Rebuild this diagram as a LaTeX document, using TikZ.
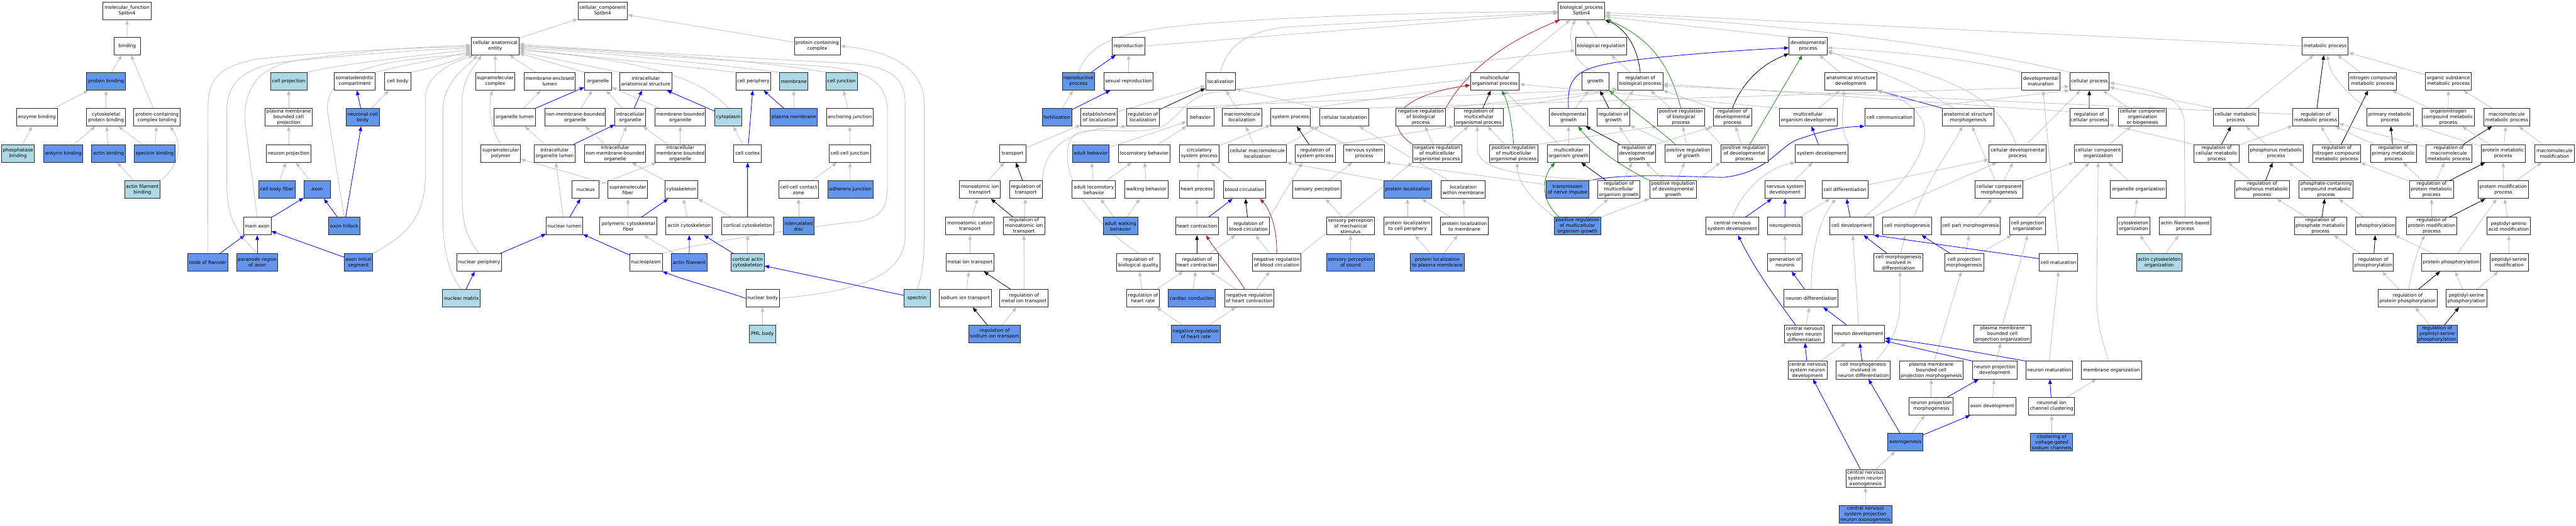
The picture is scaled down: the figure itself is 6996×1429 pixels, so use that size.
\documentclass[tikz,border=0pt]{standalone}
\usepackage{fontspec}
\setmainfont{DejaVu Sans}
\usetikzlibrary{arrows.meta,calc}
\pgfdeclarelayer{bg}
\pgfdeclarelayer{edges}
\pgfsetlayers{bg,edges,main}
\definecolor{nblue}{HTML}{6495ED}
\definecolor{lblue}{HTML}{ADD8E6}
\definecolor{egray}{HTML}{C0C0C0}
\definecolor{egreen}{HTML}{228B22}
\definecolor{ered}{HTML}{B22222}
\newcommand\nd[6][]{\node[box,#1,minimum width=#5*0.01cm] (#2) at (#3,#4) {#6};}
\begin{document}
\begin{tikzpicture}[x=0.01cm,y=-0.01cm,
 box/.style={draw=black!85, line width=0.45pt, fill=white, minimum height=0.48cm, inner sep=0.3pt, align=center, font=\fontsize{3.64pt}{4.35pt}\selectfont},
 B/.style={fill=nblue}, L/.style={fill=lblue},
 ed/.style={line width=0.4pt, -{Triangle[length=3.6pt,width=2.8pt]}},
 ga/.style={ed, egray}, bl/.style={ed, blue}, bk/.style={ed, black}, gr/.style={ed, egreen}, rd/.style={ed, ered}]
\useasboundingbox (0,0) rectangle (6996,1429);
\begin{pgfonlayer}{bg}\fill[white] (0,0) rectangle (6996,1429);\end{pgfonlayer}
% ---------- molecular function
\nd{mf}{345}{29.5}{131}{molecular\_function\\Sptbn4}
\nd{bind}{345.4}{125}{72}{binding}
\nd[B]{pbind}{288}{221}{105}{protein binding}
\nd{enzb}{100}{318.5}{111}{enzyme binding}
\nd{cytpb}{288}{318.5}{105}{cytoskeletal\\protein binding}
\nd{pccb}{426.5}{318.5}{126}{protein-containing\\complex binding}
\nd[L]{phosb}{49}{417}{89}{phosphatase\\binding}
\nd[B]{ankb}{171.8}{417}{107}{ankyrin binding}
\nd[B]{actb}{294.8}{417}{91.6}{actin binding}
\nd[B]{specb}{419.8}{417}{111}{spectrin binding}
\nd[L]{afb}{386.7}{515.5}{95}{actin filament\\binding}
% ---------- cellular component (neuron part)
\nd[L]{cproj}{784}{221}{99}{cell projection}
\nd{somd}{963.7}{221}{111.5}{somatodendritic\\compartment}
\nd{cbody}{1080}{221}{72}{cell body}
\nd{pmbcp}{784}{318.5}{129}{plasma membrane\\bounded cell\\projection}
\nd[B]{ncb}{985}{318.5}{91}{neuronal cell\\body}
\nd{nproj}{784}{417}{120.5}{neuron projection}
\nd[B]{cbf}{752}{515.5}{99}{cell body fiber}
\nd[B]{axon}{861.5}{515.5}{72}{axon}
\nd{maxon}{698.6}{614.5}{75}{main axon}
\nd[B]{ahill}{934.7}{614.5}{84.8}{axon hillock}
\nd[B]{ranv}{564}{713}{109}{node of Ranvier}
\nd[B]{para}{698.6}{713}{112}{paranode region\\of axon}
\nd[B]{ais}{973.4}{713}{77}{axon initial\\segment}
% ---------- cellular component
\nd{cc}{1636.7}{29.5}{134}{cellular\_component\\Sptbn4}
\nd{cae}{1344.8}{125}{130}{cellular anatomical\\entity}
\nd{pcc}{2219.7}{125}{125}{protein-containing\\complex}
\nd{smc}{1345}{221}{107}{supramolecular\\complex}
\nd{mel}{1492.8}{221}{139}{membrane-enclosed\\lumen}
\nd{org}{1624}{221}{73}{organelle}
\nd{ias}{1754}{221}{141}{intracellular\\anatomical structure}
\nd{cper}{2046}{221}{94.5}{cell periphery}
\nd[L]{mem}{2155.7}{221}{77}{membrane}
\nd[L]{cjun}{2285.4}{221}{85.5}{cell junction}
\nd{orgl}{1398.3}{318.5}{112}{organelle lumen}
\nd{nmbo}{1562}{318.5}{164}{non-membrane-bounded\\organelle}
\nd{io}{1711.7}{318.5}{83}{intracellular\\organelle}
\nd{mbo}{1847.5}{318.5}{137.5}{membrane-bounded\\organelle}
\nd[L]{cyto}{1978.4}{318.5}{73.6}{cytoplasm}
\nd[B]{pm}{2156}{318.5}{128.6}{plasma membrane}
\nd{ajun}{2308}{318.5}{125.7}{anchoring junction}
\nd{smp}{1360}{417}{107}{supramolecular\\polymer}
\nd{iol}{1506.5}{417}{111.5}{intracellular\\organelle lumen}
\nd{inmbo}{1670.5}{417}{166}{intracellular\\non-membrane-bounded\\organelle}
\nd{imbo}{1847.5}{417}{137.5}{intracellular\\membrane-bounded\\organelle}
\nd{ccort}{2030.5}{417}{75}{cell cortex}
\nd{ccj}{2307.8}{417}{112.4}{cell-cell junction}
\nd{nuc}{1590.6}{515.5}{73}{nucleus}
\nd{smf}{1705}{515.5}{107}{supramolecular\\fiber}
\nd{cytsk}{1850.5}{515.5}{90}{cytoskeleton}
\nd{cccz}{2169}{515.5}{108.5}{cell-cell contact\\zone}
\nd[B]{adj}{2309.4}{515.5}{122.7}{adherens junction}
\nd{nlum}{1533}{614.5}{99}{nuclear lumen}
\nd{pcf}{1706.6}{614.5}{154.7}{polymeric cytoskeletal\\fiber}
\nd{acsk}{1871.7}{614.5}{126.4}{actin cytoskeleton}
\nd{ccsk}{2030.5}{614.5}{142}{cortical cytoskeleton}
\nd[B]{idisc}{2169}{614.5}{83.3}{intercalated\\disc}
\nd{nper}{1301.4}{713}{120.5}{nuclear periphery}
\nd{nplasm}{1754.5}{713}{88.5}{nucleoplasm}
\nd[B]{afil}{1872}{713}{96}{actin filament}
\nd[L]{cacsk}{2030.5}{713}{90}{cortical actin\\cytoskeleton}
\nd[L]{nmat}{1253.3}{810.5}{102}{nuclear matrix}
\nd{nbody}{2071}{810.5}{90.7}{nuclear body}
\nd[L]{spec}{2490.7}{810.5}{72}{spectrin}
\nd[L]{pml}{2070.5}{907.5}{72}{PML body}
% ---------- biological process
\nd{bp}{4295}{29.5}{126.4}{biological\_process\\Sptbn4}
\nd{repro}{3065}{125}{87.7}{reproduction}
\nd{breg}{4348}{125}{138.3}{biological regulation}
\nd{devp}{4910.5}{125}{103.4}{developmental\\process}
\nd{metp}{6314.5}{125}{125.7}{metabolic process}
\nd[B]{rprp}{2929}{221}{87.7}{reproductive\\process}
\nd{sexr}{3065}{221}{134}{sexual reproduction}
\nd{loc}{3314.7}{221}{81}{localization}
\nd{mop}{4059.8}{221}{133}{multicellular\\organismal process}
\nd{growth}{4333}{221}{73}{growth}
\nd{rbp}{4454.6}{221}{122.7}{regulation of\\biological process}
\nd{asd}{5026.5}{221}{142}{anatomical structure\\development}
\nd{devm}{5542.5}{221}{103.4}{developmental\\maturation}
\nd{cellp}{5674.5}{221}{107}{cellular process}
\nd{ncmp}{6443.8}{221}{130}{nitrogen compound\\metabolic process}
\nd{osmp}{6649.5}{221}{125}{organic substance\\metabolic process}
\nd[B]{fert}{2870.4}{318.5}{80}{fertilization}
\nd{eloc}{2985.3}{318.5}{99}{establishment\\of localization}
\nd{rloc}{3104}{318.5}{89}{regulation of\\localization}
\nd{behav}{3260}{318.5}{73}{behavior}
\nd{mmloc}{3373}{318.5}{107}{macromolecule\\localization}
\nd{sysp}{3505}{318.5}{108}{system process}
\nd{cloc}{3650.5}{318.5}{134}{cellular localization}
\nd{nrbp}{3858.6}{318.5}{134}{negative regulation\\of biological\\process}
\nd{rmop}{4016}{318.5}{133}{regulation of\\multicellular\\organismal process}
\nd{dgrow}{4259.8}{318.5}{103.4}{developmental\\growth}
\nd{rgrow}{4381.4}{318.5}{89}{regulation of\\growth}
\nd{prbp}{4565}{318.5}{128}{positive regulation\\of biological\\process}
\nd{rdevp}{4705}{318.5}{104}{regulation of\\developmental\\process}
\nd{mod}{4910.5}{318.5}{157}{multicellular\\organism development}
\nd{ccom}{5131.7}{318.5}{134}{cell communication}
\nd{asm}{5345}{318.5}{141.3}{anatomical structure\\morphogenesis}
\nd{rcp}{5673.5}{318.5}{105}{regulation of\\cellular process}
\nd{ccob}{5818.5}{318.5}{130}{cellular component\\organization\\or biogenesis}
\nd{cmp}{6072}{318.5}{122.7}{cellular metabolic\\process}
\nd{rmp}{6289}{318.5}{124.2}{regulation of\\metabolic process}
\nd{pmp}{6490.7}{318.5}{125.7}{primary metabolic\\process}
\nd{oncmp}{6649}{318.5}{142}{organonitrogen\\compound metabolic\\process}
\nd{mmmp}{6807.8}{318.5}{125}{macromolecule\\metabolic process}
\nd{trans}{2750}{417}{72}{transport}
\nd[B]{adb}{2962.6}{417}{99.6}{adult behavior}
\nd{locb}{3107.6}{417}{141}{locomotory behavior}
\nd{csp}{3257}{417}{107}{circulatory\\system process}
\nd{cmml}{3414.7}{417}{157.6}{cellular macromolecule\\localization}
\nd{rsysp}{3572}{417}{108}{regulation of\\system process}
\nd{nsp}{3705}{417}{111}{nervous system\\process}
\nd{nrmop}{3902.8}{417}{133}{negative regulation\\of multicellular\\organismal process}
\nd{prmop}{4110.8}{417}{132.4}{positive regulation\\of multicellular\\organismal process}
\nd{mog}{4259.8}{417}{115.3}{multicellular\\organism growth}
\nd{rdg}{4445.3}{417}{102.6}{regulation of\\developmental\\growth}
\nd{prg}{4585}{417}{128}{positive regulation\\of growth}
\nd{prdp}{4737.3}{417}{128.6}{positive regulation\\of developmental\\process}
\nd{sysd}{4947.7}{417}{143.5}{system development}
\nd{cdp}{5479.7}{417}{156}{cellular developmental\\process}
\nd{cco}{5698.4}{417}{130.8}{cellular component\\organization}
\nd{rcmp}{6020}{417}{122.7}{regulation of\\cellular metabolic\\process}
\nd{phmp}{6181.3}{417}{149.5}{phosphorus metabolic\\process}
\nd{rncmp}{6346}{417}{130.9}{regulation of\\nitrogen compound\\metabolic process}
\nd{rpmp}{6500}{417}{125}{regulation of\\primary metabolic\\process}
\nd{rmmmp}{6650.5}{417}{125.7}{regulation of\\macromolecule\\metabolic process}
\nd{prmp}{6798.2}{417}{120.5}{protein metabolic\\process}
\nd{mmmod}{6937.6}{417}{106.3}{macromolecule\\modification}
\nd{mit}{2661}{515.5}{112}{monoatomic ion\\transport}
\nd{rtrans}{2786}{515.5}{88.5}{regulation of\\transport}
\nd{alb}{2970.8}{515.5}{117.5}{adult locomotory\\behavior}
\nd{walk}{3113}{515.5}{118}{walking behavior}
\nd{hp}{3250.3}{515.5}{93.7}{heart process}
\nd{bcirc}{3379.8}{515.5}{114.5}{blood circulation}
\nd{sperc}{3577}{515.5}{131}{sensory perception}
\nd[B]{ploc}{3822.6}{515.5}{130}{protein localization}
\nd{lwm}{3974.2}{515.5}{119.7}{localization\\within membrane}
\nd[B]{tni}{4257.2}{515.5}{116}{transmission\\of nerve impulse}
\nd{rmog}{4396.3}{515.5}{113}{regulation of\\multicellular\\organism growth}
\nd{prdg}{4544}{515.5}{127}{positive regulation\\of developmental\\growth}
\nd{nsd}{4847.6}{515.5}{110}{nervous system\\development}
\nd{cdiff}{5010.5}{515.5}{125}{cell differentiation}
\nd{ccm}{5429}{515.5}{131}{cellular component\\morphogenesis}
\nd{oorg}{5807.6}{515.5}{151.7}{organelle organization}
\nd{rphmp}{6143.5}{515.5}{149.5}{regulation of\\phosphorus metabolic\\process}
\nd{pccmp}{6317.4}{515.5}{146.5}{phosphate-containing\\compound metabolic\\process}
\nd{rprmp}{6603.7}{515.5}{119.7}{regulation of\\protein metabolic\\process}
\nd{pmodp}{6798.5}{515.5}{136}{protein modification\\process}
\nd{mact}{2634.3}{614.5}{131.6}{monoatomic cation\\transport}
\nd{rmit}{2780.8}{614.5}{112.3}{regulation of\\monoatomic ion\\transport}
\nd[B]{awb}{3043}{614.5}{93.7}{adult walking\\behavior}
\nd{hc}{3250.7}{614.5}{116.7}{heart contraction}
\nd{rbc}{3390.5}{614.5}{113.8}{regulation of\\blood circulation}
\nd{spms}{3668}{614.5}{130}{sensory perception\\of mechanical\\stimulus}
\nd{plcp}{3822.6}{614.5}{130}{protein localization\\to cell periphery}
\nd{plm}{3977.3}{614.5}{130}{protein localization\\to membrane}
\nd[B]{prmog}{4284}{614.5}{126.4}{positive regulation\\of multicellular\\organism growth}
\nd{cnsd}{4705}{614.5}{143.5}{central nervous\\system development}
\nd{ngen}{4847.7}{614.5}{93.7}{neurogenesis}
\nd{cdev}{5029}{614.5}{119}{cell development}
\nd{cmorph}{5179.6}{614.5}{133}{cell morphogenesis}
\nd{cpm}{5351.9}{614.5}{162}{cell part morphogenesis}
\nd{cpo}{5506.5}{614.5}{98}{cell projection\\organization}
\nd{csko}{5794}{614.5}{89}{cytoskeleton\\organization}
\nd{afbp}{5934.5}{614.5}{139}{actin filament-based\\process}
\nd{rphosmp}{6302}{614.5}{141.3}{regulation of\\phosphate metabolic\\process}
\nd{phos}{6452.7}{614.5}{109.3}{phosphorylation}
\nd{rpmodp}{6604}{614.5}{136.8}{regulation of\\protein modification\\process}
\nd{paam}{6813}{614.5}{117.5}{peptidyl-amino\\acid modification}
\nd{mitr}{2634.6}{713}{131}{metal ion transport}
\nd{rbq}{3091.6}{713}{118}{regulation of\\biological quality}
\nd{rhc}{3250.7}{713}{116.7}{regulation of\\heart contraction}
\nd{nrbc}{3467.5}{713}{132.4}{negative regulation\\of blood circulation}
\nd[B]{sps}{3668}{713}{130}{sensory perception\\of sound}
\nd[B]{plpm}{3903.6}{713}{146.5}{protein localization\\to plasma membrane}
\nd{genn}{4847.7}{713}{93.7}{generation of\\neurons}
\nd{cmid}{5156}{713}{133}{cell morphogenesis\\involved in\\differentiation}
\nd{cpmorph}{5334.4}{713}{106.3}{cell projection\\morphogenesis}
\nd{cmat}{5590.5}{713}{104}{cell maturation}
\nd[L]{acso}{5864}{713}{123.6}{actin cytoskeleton\\organization}
\nd{rphos}{6445.4}{713}{109.3}{regulation of\\phosphorylation}
\nd{pphos}{6657}{713}{160.6}{protein phosphorylation}
\nd{psm}{6814.5}{713}{104}{peptidyl-serine\\modification}
\nd{sit}{2621.3}{810.5}{141.3}{sodium ion transport}
\nd{rmitr}{2781}{810.5}{131}{regulation of\\metal ion transport}
\nd{rhr}{3104.3}{810.5}{88.5}{regulation of\\heart rate}
\nd[B]{cardc}{3237}{810.5}{128}{cardiac conduction}
\nd{nrhc}{3393}{810.5}{134}{negative regulation\\of heart contraction}
\nd{ndiff}{4918.7}{810.5}{146.5}{neuron differentiation}
\nd{rpphos}{6538.7}{810.5}{160.6}{regulation of\\protein phosphorylation}
\nd{psp}{6698.5}{810.5}{110}{peptidyl-serine\\phosphorylation}
\nd[B]{rsit}{2701.3}{907.5}{140.5}{regulation of\\sodium ion transport}
\nd[B]{nrhr}{3247.7}{907.5}{133}{negative regulation\\of heart rate}
\nd{cnsnd}{4900}{907.5}{106.3}{central nervous\\system neuron\\differentiation}
\nd{ndev}{5047.6}{907.5}{141.3}{neuron development}
\nd{pmbcpo}{5438.4}{907.5}{155.4}{plasma membrane\\bounded cell\\projection organization}
\nd[B]{rpsp}{6618.6}{907.5}{109.3}{regulation of\\peptidyl-serine\\phosphorylation}
\nd{cnsndev}{4909}{1006}{106.3}{central nervous\\system neuron\\development}
\nd{cmind}{5060}{1006}{146.5}{cell morphogenesis\\involved in\\neuron differentiation}
\nd{pmbcpm}{5245}{1006}{173.3}{plasma membrane\\bounded cell\\projection morphogenesis}
\nd{npd}{5417.3}{1006}{120.5}{neuron projection\\development}
\nd{nmatr}{5565.3}{1006}{126.4}{neuron maturation}
\nd{memo}{5734.4}{1006}{162.9}{membrane organization}
\nd{npm}{5245}{1104}{119.7}{neuron projection\\morphogenesis}
\nd{axd}{5410.5}{1104}{127.9}{axon development}
\nd{nicc}{5572}{1104}{125}{neuronal ion\\channel clustering}
\nd[B]{axg}{5174.5}{1202}{96}{axonogenesis}
\nd[B]{cvgsc}{5572}{1202}{114.5}{clustering of\\voltage-gated\\sodium channels}
\nd{cnsna}{5066.6}{1300}{106.3}{central nervous\\system neuron\\axonogenesis}
\nd[B]{cnspna}{5066.3}{1398}{144.3}{central nervous\\system projection\\neuron axonogenesis}

\begin{pgfonlayer}{edges}
% MF
\draw[ga] (bind) -- (mf);
\draw[ga] (pbind) -- (bind);
\draw[ga] (pccb) -- (bind);
\draw[ga] (enzb) -- (pbind);
\draw[ga] (cytpb) -- (pbind);
\draw[ga] (phosb) -- (enzb);
\draw[ga] (ankb) -- (cytpb);
\draw[ga] (actb) -- (cytpb);
\draw[ga] (specb) -- (cytpb);
\draw[ga] (specb) -- (pccb);
\draw[ga] (afb) -- (actb);
\draw[ga] (afb.north east) .. controls (490,450) and (495,390) .. ($(pccb.south)+(35,0)$);
% neuron CC
\draw[ga] (pmbcp) -- (cproj);
\draw[ga] (nproj) -- (pmbcp);
\draw[ga] (cbf) -- (nproj);
\draw[ga] (axon) -- (nproj);
\draw[bl] (maxon) -- (axon);
\draw[bl] (ahill) -- (axon);
\draw[bl] (ahill) -- (ncb);
\draw[bl] (ncb) -- (somd);
\draw[ga] (ncb) -- (cbody);
\draw[bl] (ranv) -- (maxon);
\draw[bl] (para) -- (maxon);
\draw[bl] (ais) -- (maxon);
\draw[ga] (cproj.north east) .. controls (950,170) and (1150,150) .. ($(cae.west)+(0,10)$);
\draw[ga] (somd.north east) .. controls (1080,180) and (1200,160) .. ($(cae.west)+(0,14)$);
\draw[ga] (cbody.north east) .. controls (1150,190) and (1230,170) .. ($(cae.west)+(0,18)$);
\draw[ga] (maxon.north) -- (665,330) .. controls (662,240) and (700,185) .. (800,165) .. controls (1000,135) and (1150,127) .. ($(cae.west)+(0,-2)$);
\draw[ga] (ranv.north) -- (565,290) .. controls (565,210) and (600,180) .. (700,160) .. controls (900,140) and (1100,130) .. ($(cae.west)+(0,2)$);
\draw[ga] (para.north) .. controls (640,630) and (616,590) .. (616,500) -- (616,300) .. controls (616,200) and (700,175) .. (800,165) .. controls (1000,145) and (1150,135) .. ($(cae.west)+(0,6)$);
\draw[ga] (ahill.north) -- (889,300) .. controls (885,200) and (1000,165) .. ($(cae.west)+(0,22)$);
\draw[ga] (ais.north east) .. controls (1110,640) and (1155,580) .. (1155,480) -- (1155,270) .. controls (1155,200) and (1230,170) .. ($(cae.south west)+(8,0)$);
\draw[ga] (nper.north) .. controls (1260,640) and (1255,590) .. (1255,520) -- (1255,280) .. controls (1255,210) and (1290,180) .. ($(cae.south west)+(28,0)$);
\draw[ga] (nmat.north) .. controls (1230,760) and (1203,700) .. (1203,600) -- (1203,300) .. controls (1203,220) and (1270,180) .. ($(cae.south west)+(18,0)$);
% CC
\draw[ga] (cae) -- (cc);
\draw[ga] (pcc) -- (cc);
\draw[ga] (smc) -- (cae);
\draw[ga] (mel) -- (cae);
\draw[ga] (org.north west) -- ($(cae.east)+(0,20)$);
\draw[ga] (ias.north west) -- ($(cae.east)+(0,16)$);
\draw[ga] (cper.north west) -- ($(cae.east)+(0,8)$);
\draw[ga] (mem.north west) .. controls (1900,170) and (1600,140) .. ($(cae.east)+(0,5)$);
\draw[ga] (cjun.north west) .. controls (2100,170) and (1700,135) .. ($(cae.east)+(0,2)$);
\draw[ga] (cyto.north) .. controls (1920,230) and (1800,165) .. ($(cae.east)+(0,12)$);
\draw[ga] (nplasm.north east) .. controls (1950,650) and (2250,610) .. (2332,602) .. controls (2400,590) and (2410,560) .. (2410,500) -- (2410,300) .. controls (2410,210) and (2330,185) .. (2200,178) .. controls (1900,160) and (1600,140) .. ($(cae.east)+(0,-2)$);
\draw[ga] (nbody.east) .. controls (2300,795) and (2450,760) .. (2458,650) -- (2458,280) .. controls (2458,200) and (2400,178) .. (2300,172) .. controls (2000,155) and (1600,135) .. ($(cae.east)+(0,-5)$);
\draw[ga] (spec.north) .. controls (2505,750) and (2510,700) .. (2510,640) -- (2510,280) .. controls (2508,190) and (2430,140) .. (pcc.east);
\draw[bl] (orgl) -- (org);
\draw[ga] (orgl) -- (mel);
\draw[ga] (nmbo) -- (org);
\draw[ga] (io) -- (org);
\draw[bl] (io) -- (ias);
\draw[ga] (mbo) -- (org);
\draw[bl] (cyto) -- (ias);
\draw[bl] (pm) -- (cper);
\draw[ga] (pm) -- (mem);
\draw[ga] (ajun) -- (cjun);
\draw[ga] (smp.north) .. controls (1326,340) and (1328,280) .. ($(smc.south)+(-8,0)$);
\draw[ga] (iol) -- (orgl);
\draw[bl] (iol) -- (io);
\draw[ga] (inmbo) -- (nmbo);
\draw[ga] (inmbo) -- (io);
\draw[ga] (imbo) -- (io);
\draw[ga] (imbo) -- (mbo);
\draw[ga] (ccort) -- (cyto);
\draw[bl] (ccort) -- (cper);
\draw[ga] (ccj) -- (ajun);
\draw[ga] (nuc) -- (imbo);
\draw[ga] (smf) -- (smp);
\draw[ga] (cytsk) -- (inmbo);
\draw[ga] (cccz) -- (ccj);
\draw[ga] (adj) -- (ccj);
\draw[bl] (nlum) -- (nuc);
\draw[ga] (nlum) -- (iol);
\draw[ga] (pcf) -- (smf);
\draw[bl] (pcf) -- (cytsk);
\draw[ga] (acsk) -- (cytsk);
\draw[ga] (ccsk) -- (cytsk);
\draw[bl] (ccsk) -- (ccort);
\draw[ga] (idisc) -- (cccz);
\draw[bl] (nper) -- (nlum);
\draw[bl] (nplasm) -- (nlum);
\draw[bl] (afil) -- (acsk);
\draw[ga] (afil) -- (pcf);
\draw[bl] (cacsk) -- (acsk);
\draw[ga] (cacsk) -- (ccsk);
\draw[bl] (nbody.west) .. controls (1950,785) and (1870,765) .. (nplasm.south east);
\draw[ga] (pml) -- (nbody);
\draw[bl] (nmat) -- (nper);
\draw[bl] (spec) -- (cacsk);
% BP top
\draw[ga] (repro.east) -- ($(bp.west)+(0,6)$);
\draw[ga] (rprp.north) .. controls (2960,110) and (3050,80) .. (3300,62) .. controls (3600,40) and (4000,32) .. ($(bp.west)+(0,2)$);
\draw[ga] (loc.north) .. controls (3330,130) and (3380,85) .. (3498,73) -- ($(bp.west)+(0,4)$);
\draw[ga] (breg) -- (bp);
\draw[ga] (mop) -- (bp);
\draw[ga] (growth.north) .. controls (4262,170) and (4258,90) .. ($(bp.south)+(-16,0)$);
\draw[bk] (rbp.north) .. controls (4445,110) and (4400,70) .. (bp.south east);
\draw[rd] (nrbp.north east) .. controls (3990,180) and (4100,110) .. ($(bp.south west)+(5,0)$);
\draw[gr] (prbp.north) .. controls (4540,200) and (4500,110) .. ($(bp.south east)+(3,-2)$);
\draw[ga] (devp.north west) -- ($(bp.east)+(0,16)$);
\draw[ga] (cellp.north west) .. controls (5300,120) and (4800,60) .. ($(bp.east)+(0,11)$);
\draw[ga] (metp.west) -- ($(bp.east)+(0,5)$);
% reproduction / localization
\draw[ga] (sexr) -- (repro);
\draw[bl] (rprp) -- (repro);
\draw[ga] (fert) -- (rprp);
\draw[bl] (fert) -- (sexr);
\draw[ga] (eloc) -- (loc);
\draw[bk] (rloc) -- (loc);
\draw[ga] (rloc.north east) -- ($(rbp.south west)+(0,-4)$);
\draw[ga] (mmloc) -- (loc);
\draw[ga] (cloc.north west) -- ($(loc.south east)+(0,-4)$);
\draw[ga] (cloc.north east) -- ($(cellp.west)+(0,14)$);
\draw[ga] (behav.north east) -- ($(mop.west)+(0,-6)$);
\draw[ga] (sysp.north east) -- ($(mop.west)+(0,12)$);
\draw[ga] (trans) -- (eloc);
\draw[ga] (adb) -- (behav);
\draw[ga] (locb) -- (behav);
\draw[ga] (csp) -- (sysp);
\draw[ga] (cmml) -- (mmloc);
\draw[ga] (cmml.north east) -- (cloc.south west);
\draw[ga] (mit) -- (trans);
\draw[bk] (rtrans) -- (trans);
\draw[ga] (rtrans.north east) .. controls (2835,400) and (2900,352) .. (rloc.south west);
\draw[ga] (alb) -- (adb);
\draw[ga] (alb) -- (locb);
\draw[ga] (walk) -- (locb);
\draw[ga] (hp) -- (csp);
\draw[ga] (bcirc) -- (csp);
\draw[ga] (mact) -- (mit);
\draw[bk] (rmit) -- (mit);
\draw[ga] (rmit) -- (rtrans);
\draw[ga] (awb) -- (alb);
\draw[ga] (awb) -- (walk);
\draw[ga] (hc) -- (hp);
\draw[bl] (hc) -- (bcirc);
\draw[bk] (rbc) -- (bcirc);
\draw[ga] (rbc.north east) -- ($(rsysp.south west)+(20,0)$);
\draw[ga] (mitr) -- (mact);
\draw[ga] (rbq.north) .. controls (2900,560) and (2870,410) .. (2920,364) .. controls (2960,340) and (3080,370) .. (3150,346) .. controls (3200,328) and (3215,262) .. (3300,250) -- ($(breg.west)+(0,12)$);
\draw[bk] (rhc) -- (hc);
\draw[ga] (rhc) -- (rbc);
\draw[ga] (nrbc) -- (rbc);
\draw[rd] (nrbc.north) .. controls (3468,600) and (3440,560) .. ($(bcirc.south east)+(-16,0)$);
\draw[ga] (nrbc.north east) -- (nrmop.south west);
\draw[ga] (rhr) -- (rhc);
\draw[ga] (rhr) -- (rbq);
\draw[ga] (cardc) -- (rhc);
\draw[ga] (nrhc) -- (rhc);
\draw[ga] (nrhc) -- (nrbc);
\draw[rd] ($(nrhc.north)+(-13,0)$) .. controls (3360,750) and (3300,680) .. ($(hc.south)+(25,0)$);
\draw[ga] (nrhr) -- (rhr);
\draw[ga] (nrhr) -- (nrhc);
\draw[ga] (sit) -- (mitr);
\draw[bk] (rmitr) -- (mitr);
\draw[ga] (rmitr) -- (rmit);
\draw[bk] (rsit) -- (sit);
\draw[ga] (rsit) -- (rmitr);
% regulation / growth
\draw[ga] (rbp) -- (breg);
\draw[ga] (nrbp.north east) -- ($(rbp.south west)+(0,-2)$);
\draw[bk] (rmop) -- (mop);
\draw[ga] (rmop.north east) -- ($(rbp.south west)+(0,-1)$);
\draw[ga] (dgrow) -- (growth);
\draw[bl] (dgrow.north) .. controls (4255,210) and (4280,185) .. (4400,168) .. controls (4550,148) and (4750,135) .. ($(devp.west)+(0,5)$);
\draw[bk] (rgrow) -- (growth);
\draw[ga] (rgrow) -- (rbp);
\draw[ga] (prbp) -- (rbp);
\draw[ga] (rdevp.north west) -- (rbp.south east);
\draw[bk] (rdevp.north) .. controls (4725,240) and (4770,180) .. ($(devp.west)+(0,21)$);
\draw[ga] (rsysp.north east) -- (rmop.south west);
\draw[bk] (rsysp) -- (sysp);
\draw[ga] (nsp) -- (sysp);
\draw[ga] (nrmop) -- (nrbp);
\draw[ga] (nrmop) -- (rmop);
\draw[rd] (nrmop.north west) .. controls (3765,345) and (3770,265) .. ($(mop.west)+(0,10)$);
\draw[gr] (prmop.north) .. controls (4105,320) and (4095,280) .. ($(mop.south east)+(-48,0)$);
\draw[ga] (prmop) -- (rmop);
\draw[ga] (prmop.north east) -- (prbp.south west);
\draw[ga] (mog) -- (dgrow);
\draw[ga] (mog) -- (mop);
\draw[bk] (rdg) -- (dgrow);
\draw[ga] (rdg) -- (rgrow);
\draw[ga] (rdg.north east) -- (rdevp.south west);
\draw[gr] ($(prg.north)+(-35,0)$) .. controls (4490,340) and (4420,290) .. (growth.south east);
\draw[ga] (prg) -- (rgrow);
\draw[ga] (prg) -- (prbp);
\draw[ga] (sperc) -- (nsp);
\draw[ga] (ploc.north west) -- (cmml.south east);
\draw[ga] (lwm) -- (cloc);
\draw[bl] (tni.north east) .. controls (4420,470) and (4560,480) .. (4680,482) .. controls (4800,470) and (4830,400) .. (4880,380) .. controls (4950,355) and (5000,345) .. (ccom.south west);
\draw[ga] ($(tni.west)+(0,-14)$) -- ($(nsp.south east)+(2,0)$);
\draw[bk] (rmog) -- (mog);
\draw[ga] (rmog) -- (rdg);
\draw[ga] (rmog.north west) .. controls (4100,475) and (4012,460) .. (4012,400) -- ($(rmop.south)+(-4,0)$);
\draw[gr] (prdg.north west) .. controls (4390,445) and (4330,400) .. ($(dgrow.south)+(26,0)$);
\draw[ga] (prdg) -- (rdg);
\draw[ga] (prdg) -- (prg);
\draw[ga] (prdg.north east) -- (prdp.south west);
\draw[ga] (spms) -- (sperc);
\draw[ga] (plcp) -- (ploc);
\draw[ga] (plm) -- (ploc);
\draw[ga] (plm) -- (lwm);
\draw[gr] ($(prmog.north)+(-50,0)$) .. controls (4180,540) and (4190,480) .. ($(mog.south)+(-37,0)$);
\draw[ga] ($(prmog.north)+(-62,0)$) .. controls (4140,530) and (4120,480) .. ($(prmop.south)+(10,0)$);
\draw[ga] (prmog) -- (rmog);
\draw[ga] (prmog) -- (prdg);
\draw[ga] (sps) -- (spms);
\draw[ga] (plpm) -- (plcp);
\draw[ga] (plpm) -- (plm);
% development
\draw[ga] (asd) -- (devp);
\draw[ga] (devm.north west) .. controls (5350,160) and (5150,140) .. ($(devp.east)+(0,5)$);
\draw[ga] (mod) -- (asd);
\draw[ga] (mod.north west) -- ($(mop.east)+(0,8)$);
\draw[ga] (ccom.north east) -- (cellp.south west);
\draw[bl] (asm.north west) -- (asd.south east);
\draw[ga] ($(asm.north)+(-40,0)$) .. controls (5220,240) and (5080,185) .. ($(devp.east)+(0,12)$);
\draw[bk] (rcp) -- (cellp);
\draw[ga] ($(rcp.west)+(0,-15)$) -- ($(rbp.east)+(0,7)$);
\draw[ga] (ccob) -- (cellp);
\draw[gr] ($(prdp.north)+(15,0)$) -- ($(devp.south)+(-16,0)$);
\draw[ga] (prdp) -- (rdevp);
\draw[ga] (prdp.north west) -- (prbp.south east);
\draw[bl] (sysd) -- (mod);
\draw[ga] (sysd.north east) .. controls (4990,330) and (5010,280) .. ($(asd.south)+(-20,0)$);
\draw[ga] ($(cdp.north)+(-5,0)$) .. controls (5440,280) and (5300,190) .. ($(devp.east)+(0,18)$);
\draw[ga] (cdp) -- (cellp);
\draw[ga] (cco) -- (ccob);
\draw[ga] (nsd) -- (sysd);
\draw[ga] (cdiff) -- (cdp);
\draw[ga] (ccm) -- (cdp);
\draw[ga] (ccm) -- (asm);
\draw[ga] (ccm) -- (cco);
\draw[ga] (oorg) -- (cco);
\draw[bl] (cnsd) -- (nsd);
\draw[ga] (cnsd.north) .. controls (4730,520) and (4800,455) .. (sysd.south west);
\draw[bl] (ngen) -- (nsd);
\draw[ga] (ngen) -- (cdiff);
\draw[bl] (cdev) -- (cdiff);
\draw[ga] (cdev) -- (cdp);
\draw[ga] ($(cdev.north)+(33,0)$) .. controls (5180,500) and (5240,400) .. (5225,340) .. controls (5210,290) and (5150,260) .. (asd.south east);
\draw[ga] ($(cmorph.north)+(18,0)$) .. controls (5240,480) and (5300,400) .. ($(asm.south)+(-15,0)$);
\draw[ga] (cpm) -- (ccm);
\draw[ga] (cpo) -- (cco);
\draw[ga] (csko) -- (oorg);
\draw[ga] (genn) -- (ngen);
\draw[bl] (cmid) -- (cdev);
\draw[ga] (cmid) -- (cmorph);
\draw[bl] (cpmorph) -- (cmorph);
\draw[ga] (cpmorph) -- (cpm);
\draw[ga] (cpmorph) -- (cpo);
\draw[bl] ($(cmat.west)+(0,-10)$) -- (cdev.south east);
\draw[ga] (cmat.north) -- ($(devm.south)+(6,0)$);
\draw[ga] (acso) -- (csko);
\draw[ga] (acso) -- (afbp);
% neuron development
\draw[ga] (ndiff.north) .. controls (4920,680) and (4940,600) .. ($(cdiff.south)+(-25,0)$);
\draw[bl] (ndiff) -- (genn);
\draw[ga] (cnsnd) -- (ndiff);
\draw[bl] (ndev) -- (ndiff);
\draw[bl] ($(cnsnd.north)+(-24,0)$) .. controls (4830,820) and (4770,740) .. ($(cnsd.south)+(15,0)$);
\draw[ga] (ndev.north) -- ($(cdev.south)+(3,0)$);
\draw[bl] (cnsndev) -- (cnsnd);
\draw[ga] (cnsndev) -- (ndev);
\draw[bl] (cmind) -- (ndev);
\draw[ga] ($(cmind.north)+(33,0)$) .. controls (5140,930) and (5160,880) .. (5160,820) -- ($(cmid.south)+(4,0)$);
\draw[ga] ($(pmbcpm.north)+(8,0)$) -- ($(cpmorph.south)+(-8,0)$);
\draw[bl] (npd.north west) -- ($(ndev.east)+(0,19)$);
\draw[bl] (nmatr.north west) .. controls (5380,960) and (5250,935) .. ($(ndev.east)+(0,12)$);
\draw[ga] (npd) -- (pmbcpo);
\draw[ga] (pmbcpo.north) -- (cpo.south);
\draw[ga] (nmatr.north) -- (cmat.south);
\draw[ga] ($(memo.north)+(-8,0)$) .. controls (5700,900) and (5694,860) .. (5694,800) -- (cco.south);
\draw[ga] (npm) -- (pmbcpm);
\draw[bl] (npm) -- (npd);
\draw[ga] (axd) -- (npd);
\draw[bl] (nicc) -- (nmatr);
\draw[ga] (nicc) -- (memo);
\draw[bl] (axg) -- (cmind);
\draw[ga] (axg) -- (npm);
\draw[bl] (axg) -- (axd);
\draw[ga] (cvgsc) -- (nicc);
\draw[ga] (cnsna) -- (axg);
\draw[bl] ($(cnsna.north)+(-14,0)$) -- ($(cnsndev.south)+(15,0)$);
\draw[ga] (cnspna) -- (cnsna);
% metabolism
\draw[ga] (ncmp) -- (metp);
\draw[ga] (osmp) -- (metp);
\draw[ga] (cmp) -- (metp);
\draw[bk] (rmp) -- (metp);
\draw[ga] (pmp.north west) .. controls (6370,250) and (6325,200) .. ($(metp.south)+(7,0)$);
\draw[ga] (oncmp) -- (ncmp);
\draw[ga] (oncmp) -- (osmp);
\draw[ga] (mmmp) -- (osmp);
\draw[ga] (cmp.north west) -- ($(cellp.east)+(0,16)$);
\draw[ga] ($(rmp.west)+(0,-8)$) -- ($(rbp.east)+(0,12)$);
\draw[bk] (rcmp) -- (cmp);
\draw[ga] (rcmp) -- (rmp);
\draw[ga] (rcmp.north west) -- ($(rcp.east)+(0,20)$);
\draw[ga] (phmp) -- (cmp);
\draw[bk] (rncmp) -- (ncmp);
\draw[ga] (rncmp) -- (rmp);
\draw[bk] (rpmp) -- (pmp);
\draw[ga] (rpmp) -- (rmp);
\draw[bk] (rmmmp) -- (mmmp);
\draw[ga] (rmmmp) -- (rmp);
\draw[ga] (prmp) -- (mmmp);
\draw[ga] (prmp) -- (oncmp);
\draw[ga] (prmp) -- (pmp);
\draw[ga] (mmmod) -- (mmmp);
\draw[bk] (rphmp) -- (phmp);
\draw[ga] (rphmp) -- (rcmp);
\draw[ga] (pccmp) -- (phmp);
\draw[bk] (rprmp) -- (prmp);
\draw[ga] (rprmp) -- (rncmp);
\draw[ga] (rprmp) -- (rpmp);
\draw[ga] (rprmp) -- (rmmmp);
\draw[ga] (pmodp) -- (prmp);
\draw[ga] (pmodp) -- (mmmod);
\draw[ga] (afbp.north) -- (5932,330) .. controls (5925,270) and (5880,250) .. ($(cellp.east)+(0,4)$);
\draw[bk] (rphosmp) -- (pccmp);
\draw[ga] (rphosmp) -- (rphmp);
\draw[ga] (phos) -- (pccmp);
\draw[bk] (rpmodp) -- (pmodp);
\draw[ga] (rpmodp) -- (rprmp);
\draw[ga] (paam) -- (pmodp);
\draw[bk] (rphos) -- (phos);
\draw[ga] (rphos) -- (rphosmp);
\draw[ga] (pphos) -- (phos);
\draw[ga] (pphos) -- (pmodp);
\draw[ga] (psm) -- (paam);
\draw[ga] (rpphos) -- (rphos);
\draw[bk] (rpphos) -- (pphos);
\draw[ga] ($(rpphos.north)+(3,0)$) .. controls (6550,730) and (6565,680) .. ($(rpmodp.south)+(-19,0)$);
\draw[ga] (psp) -- (pphos);
\draw[ga] (psp) -- (psm);
\draw[ga] (rpsp) -- (rpphos);
\draw[bk] (rpsp) -- (psp);
\end{pgfonlayer}
\end{tikzpicture}
\end{document}
